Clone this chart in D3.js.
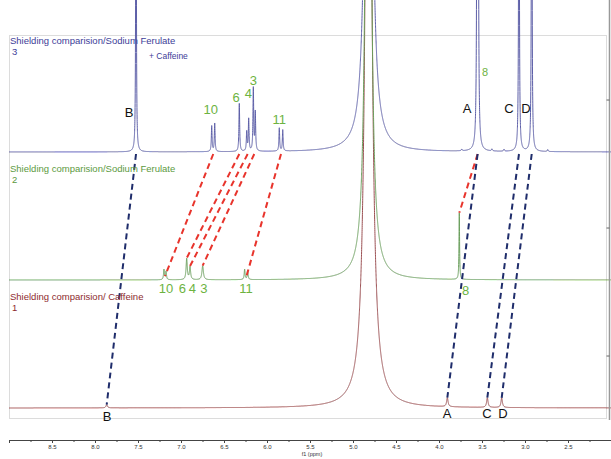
<!DOCTYPE html>
<html>
<head>
<meta charset="utf-8">
<script src="https://cdn.jsdelivr.net/npm/d3@7"></script>
<style>
body { margin: 0; background: #fff; }
svg { display: block; font-family: "Liberation Sans", Arial, sans-serif; }
</style>
</head>
<body>
<svg width="611" height="459"></svg>
<script>
// peaks: [ppm, height (one unit = gap between stacked spectra), half width (ppm)]
var peaksFerulateCaffeine = [
    [7.523, 5.0, 0.003],
    [6.643, 0.20, 0.005], [6.608, 0.22, 0.005],
    [6.322, 0.375, 0.005],
    [6.236, 0.15, 0.005], [6.213, 0.25, 0.005],
    [6.159, 0.49, 0.005], [6.136, 0.30, 0.005],
    [5.857, 0.18, 0.005], [5.817, 0.165, 0.005],
    [4.818, 8.0, 0.030],
    [3.736, 0.012, 0.006],
    [3.557, 3.0, 0.005], [3.545, 3.0, 0.005],
    [3.384, 0.015, 0.006], [3.244, 0.015, 0.006],
    [3.070, 4.0, 0.004], [2.922, 4.0, 0.004],
    [2.736, 0.015, 0.006]
];
var peaksFerulate = [
    [7.198, 0.08, 0.006], [7.174, 0.065, 0.006],
    [6.934, 0.165, 0.008], [6.895, 0.10, 0.008],
    [6.748, 0.11, 0.010],
    [6.260, 0.08, 0.006], [6.225, 0.07, 0.006],
    [4.822, 8.0, 0.0265],
    [3.764, 0.52, 0.004]
];
var peaksCaffeine = [
    [7.864, 0.025, 0.010],
    [4.820, 8.0, 0.034],
    [3.903, 0.07, 0.010],
    [3.438, 0.075, 0.010],
    [3.271, 0.075, 0.010]
];

var spectraNames = ["Shielding comparision/  Caffeine", "Shielding comparision/Sodium Ferulate", "Shielding comparision/Sodium Ferulate"];
var spectraNumbers = ["1", "2", "3"];
var spectraColors = ["#9b4f52", "#6a9f5c", "#5d5fa8"];
var textColors = ["#8e2b2e", "#5c9a3e", "#3d3d98"];

// dashed links between peaks: [ppm in upper spectrum, ppm in lower spectrum, lower spectrum index]
var redLinks = [[6.625, 7.186, 1], [6.322, 6.934, 1], [6.225, 6.895, 1], [6.148, 6.748, 1], [5.837, 6.243, 1], [3.551, 3.764, 1]];
var blueLinks = [[7.523, 7.864, 0], [3.551, 3.903, 0], [3.070, 3.438, 0], [2.922, 3.271, 0]];

// peak labels: [text, ppm, height above the spectrum baseline, spectrum index]
var blackLabels = [["B", 7.605, 0.27, 2], ["A", 3.674, 0.305, 2], ["C", 3.186, 0.305, 2], ["D", 2.988, 0.305, 2],
                   ["B", 7.86, -0.10, 0], ["A", 3.907, -0.08, 0], ["C", 3.442, -0.08, 0], ["D", 3.256, -0.08, 0]];
var greenLabels = [["10", 6.655, 0.297, 2], ["6", 6.36, 0.39, 2], ["4", 6.217, 0.42, 2], ["3", 6.159, 0.52, 2], ["11", 5.857, 0.216, 2],
                   ["10", 7.174, -0.10, 1], ["6", 6.985, -0.10, 1], ["4", 6.869, -0.10, 1], ["3", 6.733, -0.10, 1], ["11", 6.244, -0.10, 1], ["8", 3.69, -0.12, 1]];
var smallGreenLabels = [["8", 3.465, 0.59, 2]];

var majorTicks = [8.5, 8.0, 7.5, 7.0, 6.5, 6.0, 5.5, 5.0, 4.5, 4.0, 3.5, 3.0, 2.5];
var minorTicks = [9.0, 8.75, 8.25, 7.75, 7.25, 6.75, 6.25, 5.75, 5.25, 4.75, 4.25, 3.75, 3.25, 2.75, 2.25];
var rightTicks = [0.41, 1.41, 2.41];

var svg = d3.select("svg");

var x = d3.scaleLinear().domain([9.0, 2.0]).range([9, 611]);
var y = d3.scaleLinear().domain([0, 3]).range([408, 24]);

function intensity(peaks, ppm) {
    var s = 0;
    peaks.forEach(function(p) {
        var d = ppm - p[0];
        s += p[1] * p[2] * p[2] / (d * d + p[2] * p[2]);
    });
    return s;
}

// frame
svg.append("rect")
    .attr("x", 9.5).attr("y", 35.5)
    .attr("width", 597).attr("height", 383)
    .attr("fill", "none").attr("stroke", "#dcdcdc");

svg.append("clipPath").attr("id", "clip")
    .append("rect").attr("x", 0).attr("y", 0).attr("width", 611).attr("height", 440);

var ppmGrid = d3.range(9.0, 2.0, -0.0005);
var line = d3.line().x(function(d) { return x(d[0]); }).y(function(d) { return y(d[1]); });

var allPeaks = [peaksCaffeine, peaksFerulate, peaksFerulateCaffeine];

allPeaks.forEach(function(peaks, i) {
    var pts = ppmGrid.map(function(p) { return [p, i + Math.min(intensity(peaks, p), 4 - i)]; });
    svg.append("path")
        .attr("clip-path", "url(#clip)")
        .attr("d", line(pts))
        .attr("fill", "none")
        .attr("stroke", spectraColors[i])
        .attr("stroke-width", 1);
});

function drawLinks(links, color) {
    svg.selectAll(null)
        .data(links)
        .enter().append("line")
        .attr("x1", function(d) { return x(d[0]); })
        .attr("y1", y(2) + 2)
        .attr("x2", function(d) { return x(d[1]); })
        .attr("y2", function(d) { return y(d[2] + intensity(allPeaks[d[2]], d[1])); })
        .attr("stroke", color)
        .attr("stroke-width", 2)
        .attr("stroke-dasharray", "6,4");
}
drawLinks(redLinks, "#e8342c");
drawLinks(blueLinks, "#1f2d6b");

// spectrum titles
spectraNames.forEach(function(name, i) {
    var t = svg.append("text")
        .attr("x", 10).attr("y", y(i) - 108)
        .attr("fill", textColors[i])
        .style("font-size", "9.5px");
    t.append("tspan").text(name);
    t.append("tspan").attr("x", 12).attr("dy", 11).text(spectraNumbers[i]);
});
svg.append("text")
    .attr("x", 149).attr("y", 59)
    .attr("fill", textColors[2])
    .style("font-size", "8.5px")
    .text("+ Caffeine");

function drawLabels(labels, color, size) {
    svg.selectAll(null)
        .data(labels)
        .enter().append("text")
        .attr("x", function(d) { return x(d[1]); })
        .attr("y", function(d) { return y(d[3] + d[2]); })
        .attr("text-anchor", "middle")
        .attr("fill", color)
        .style("font-size", size)
        .text(function(d) { return d[0]; });
}
drawLabels(blackLabels, "#111", "13px");
drawLabels(greenLabels, "#6db33f", "13px");
drawLabels(smallGreenLabels, "#6db33f", "11px");

// right axis
var yr = d3.axisLeft(y).tickValues(rightTicks).tickSize(3).tickFormat("");
var gr = svg.append("g").attr("transform", "translate(609.5,0)").call(yr);
gr.select(".domain").attr("d", "M0,0V420").attr("stroke", "#999").attr("stroke-width", 1.5);
gr.selectAll(".tick line").attr("stroke", "#666");

// bottom axis
var gx = svg.append("g").attr("transform", "translate(0,440)");
gx.call(d3.axisBottom(x).tickValues(majorTicks).tickSize(3).tickPadding(2).tickFormat(d3.format(".1f")));
gx.append("g").call(d3.axisBottom(x).tickValues(minorTicks).tickSize(2).tickFormat(""))
    .select(".domain").remove();
gx.selectAll("text").style("font-size", "6px").attr("fill", "#333");
gx.selectAll(".domain").attr("stroke", "#444");
gx.selectAll(".tick line").attr("stroke", "#444");

svg.append("text")
    .attr("x", x(5.5) + 2).attr("y", 456)
    .attr("text-anchor", "middle")
    .attr("fill", "#333")
    .style("font-size", "5.5px")
    .text("f1 (ppm)");
</script>
</body>
</html>
